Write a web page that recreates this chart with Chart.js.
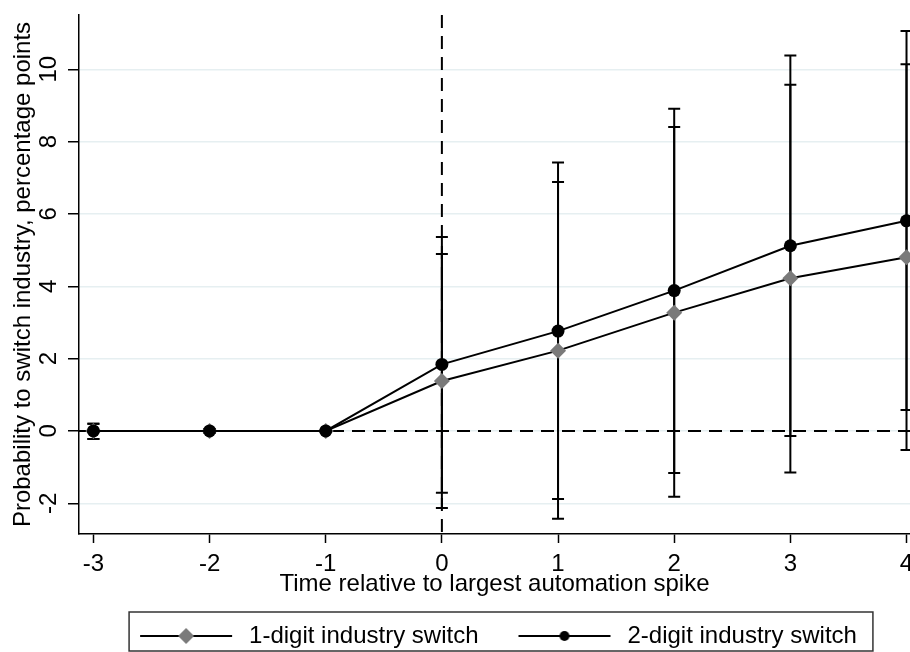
<!DOCTYPE html>
<html>
<head>
<meta charset="utf-8">
<script src="https://cdn.jsdelivr.net/npm/chart.js@4"></script>
<style>
  html, body { margin: 0; padding: 0; background: #fff; }
</style>
</head>
<body>
<canvas id="chart" width="910" height="652"></canvas>
<script>
// Data
const periods = [-3, -2, -1, 0, 1, 2, 3, 4];
const seriesLabels = ['1-digit industry switch', '2-digit industry switch'];

const oneDigit     = [0, 0, 0, 1.38, 2.22, 3.27, 4.22, 4.80];
const oneDigitLow  = [-0.22, -0.05, 0, -2.13, -2.43, -1.82, -1.15, -0.53];
const oneDigitHigh = [0.20, 0.05, 0, 4.89, 6.88, 8.40, 9.57, 10.14];

const twoDigit     = [0, 0, 0, 1.84, 2.76, 3.88, 5.12, 5.81];
const twoDigitLow  = [-0.22, -0.05, 0, -1.71, -1.88, -1.16, -0.14, 0.58];
const twoDigitHigh = [0.20, 0.05, 0, 5.36, 7.42, 8.91, 10.38, 11.06];

const xTicks = [-3, -2, -1, 0, 1, 2, 3, 4];
const yTicks = [-2, 0, 2, 4, 6, 8, 10];

Chart.defaults.font.family = "'Liberation Sans', Arial, sans-serif";
Chart.defaults.font.size = 24;
Chart.defaults.color = '#000';

// legend swatch: line with the marker in the middle
function legendIcon(kind) {
  const c = document.createElement('canvas');
  c.width = 105;
  c.height = 24;
  const g = c.getContext('2d');
  g.strokeStyle = '#000';
  g.lineWidth = 2;
  g.beginPath();
  g.moveTo(8, 12);
  g.lineTo(100, 12);
  g.stroke();
  if (kind === 'diamond') {
    g.fillStyle = '#7a7a7a';
    g.beginPath();
    g.moveTo(46, 12);
    g.lineTo(54, 4);
    g.lineTo(62, 12);
    g.lineTo(54, 20);
    g.closePath();
    g.fill();
  } else {
    g.fillStyle = '#000';
    g.beginPath();
    g.arc(54, 12, 5, 0, Math.PI * 2);
    g.fill();
  }
  return c;
}
const icons = [legendIcon('diamond'), legendIcon('circle')];

// confidence intervals + reference lines, drawn under the markers
const errorBars = {
  id: 'errorBars',
  beforeDatasetsDraw(chart) {
    const { ctx, chartArea, scales: { x, y } } = chart;
    ctx.save();
    ctx.strokeStyle = '#000';
    ctx.lineWidth = 2;
    ctx.setLineDash([13, 8]);
    ctx.beginPath();
    const y0 = y.getPixelForValue(0);
    const x0 = x.getPixelForValue(0);
    ctx.moveTo(chartArea.left, y0);
    ctx.lineTo(chartArea.right, y0);
    ctx.moveTo(x0, chartArea.top);
    ctx.lineTo(x0, chartArea.bottom);
    ctx.stroke();
    ctx.setLineDash([]);

    const bands = [[oneDigitLow, oneDigitHigh], [twoDigitLow, twoDigitHigh]];
    bands.forEach(([low, high]) => {
      periods.forEach((p, i) => {
        if (high[i] === low[i]) return;
        const px = x.getPixelForValue(p);
        const lo = y.getPixelForValue(low[i]);
        const hi = y.getPixelForValue(high[i]);
        ctx.beginPath();
        ctx.moveTo(px, lo);
        ctx.lineTo(px, hi);
        ctx.moveTo(px - 6, lo);
        ctx.lineTo(px + 6, lo);
        ctx.moveTo(px - 6, hi);
        ctx.lineTo(px + 6, hi);
        ctx.stroke();
      });
    });
    ctx.restore();
  }
};

// frame around the legend
const legendFrame = {
  id: 'legendFrame',
  afterDraw(chart) {
    const boxes = chart.legend && chart.legend.legendHitBoxes;
    if (!boxes || boxes.length < 2) return;
    const { ctx } = chart;
    const left = boxes[0].left + 8 - 11;
    const right = boxes[1].left + boxes[1].width + 16;
    const top = boxes[0].top - 12;
    const bottom = 651;
    ctx.save();
    ctx.strokeStyle = '#333';
    ctx.lineWidth = 1.5;
    ctx.strokeRect(left, top, right - left, bottom - top);
    ctx.restore();
  }
};

new Chart(document.getElementById('chart'), {
  type: 'line',
  data: {
    datasets: [{
      label: seriesLabels[0],
      data: periods.map((p, i) => ({ x: p, y: oneDigit[i] })),
      borderColor: '#000',
      borderWidth: 2,
      pointStyle: 'rectRot',
      pointRadius: 8,
      pointBackgroundColor: '#7a7a7a',
      pointBorderColor: '#7a7a7a',
      pointBorderWidth: 0,
      order: 1
    }, {
      label: seriesLabels[1],
      data: periods.map((p, i) => ({ x: p, y: twoDigit[i] })),
      borderColor: '#000',
      borderWidth: 2,
      pointStyle: 'circle',
      pointRadius: 6.5,
      pointBackgroundColor: '#000',
      pointBorderColor: '#000',
      pointBorderWidth: 0,
      order: 0
    }]
  },
  options: {
    responsive: false,
    animation: false,
    layout: {
      padding: { top: 15, left: 0, right: 0, bottom: -6 },
      autoPadding: false
    },
    plugins: {
      tooltip: { enabled: false },
      legend: {
        position: 'bottom',
        fullSize: false,
        labels: {
          usePointStyle: true,
          pointStyleWidth: 105,
          padding: 32,
          color: '#000',
          font: { size: 24 },
          generateLabels: chart => chart.data.datasets.map((ds, i) => ({
            text: ds.label,
            datasetIndex: i,
            pointStyle: icons[i],
            rotation: 0,
            lineWidth: 1,
            fontColor: '#000',
            fillStyle: '#000',
            strokeStyle: '#000',
            hidden: false
          }))
        }
      }
    },
    scales: {
      x: {
        type: 'linear',
        min: -3.124,
        max: 4.03,
        afterBuildTicks: s => { s.ticks = xTicks.map(v => ({ value: v })); },
        afterFit: s => { s.height = 58; s.paddingLeft = 0; s.paddingRight = 0; },
        border: { color: '#000', width: 1.5 },
        grid: { drawOnChartArea: false, tickColor: '#000', tickWidth: 1.5, tickLength: 9 },
        ticks: { padding: 7, color: '#000', maxRotation: 0, autoSkip: false, font: { size: 24 } },
        title: {
          display: true,
          text: 'Time relative to largest automation spike',
          color: '#000',
          font: { size: 24 },
          padding: { top: 0, bottom: -7 }
        }
      },
      y: {
        min: -2.85,
        max: 11.5,
        afterBuildTicks: s => { s.ticks = yTicks.map(v => ({ value: v })); },
        afterFit: s => { s.width = 79; s.paddingTop = 0; s.paddingBottom = 0; },
        border: { color: '#000', width: 1.5 },
        grid: { color: '#e6eff1', lineWidth: 1.5, tickColor: '#000', tickWidth: 1.5, tickLength: 11 },
        ticks: { minRotation: 90, maxRotation: 90, crossAlign: 'center', padding: 5, autoSkip: false, color: '#000', font: { size: 24 } },
        title: {
          display: true,
          text: 'Probability to switch industry, percentage points',
          color: '#000',
          font: { size: 24 },
          padding: { top: 9, bottom: 0 }
        }
      }
    }
  },
  plugins: [errorBars, legendFrame]
});
</script>
</body>
</html>
